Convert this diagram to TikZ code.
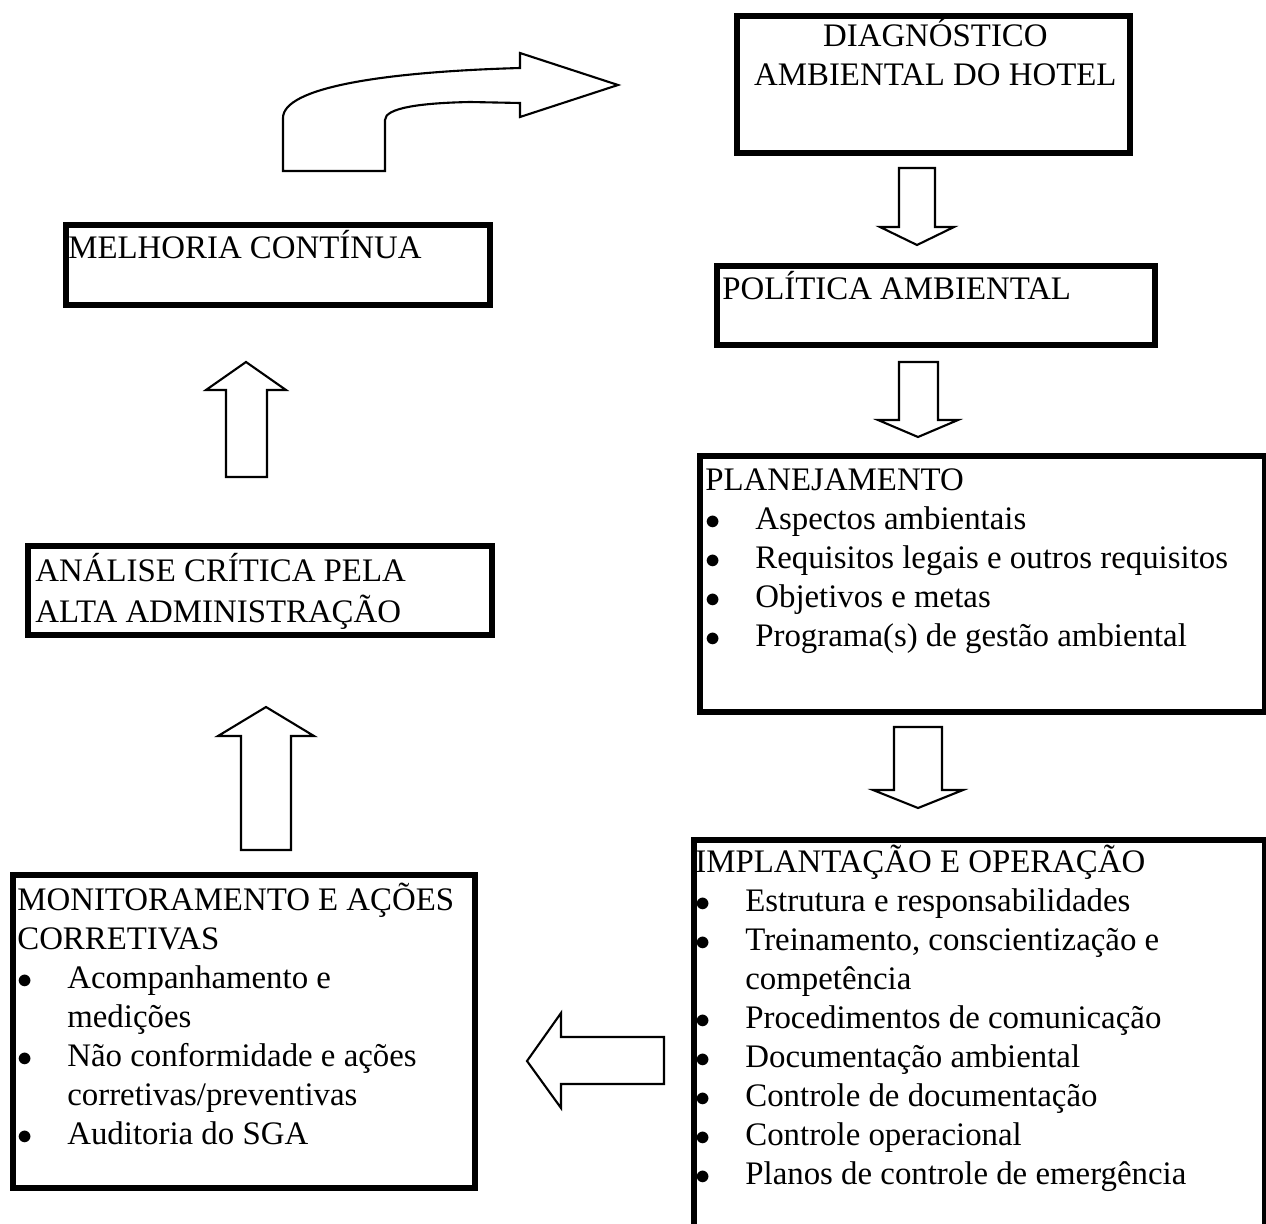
\documentclass[tikz,border=0pt]{standalone}
\usepackage{fontspec}
\setmainfont{Liberation Serif}
\usepackage{tikz}
\newcommand{\blt}{\makebox[1cm][l]{$\bullet$}}
\newcommand{\ind}{\hspace*{1cm}}

\begin{document}
\begin{tikzpicture}[x=0.02cm,y=-0.02cm]
    \tikzstyle{box}=[draw, line width=3.3pt, inner sep=0pt, anchor=north west]
    \tikzstyle{txt}=[inner sep=0pt, anchor=north west, align=left, font=\fontsize{18.7}{22.2}\selectfont]
    \tikzstyle{blk}=[draw, line width=1.2pt, fill=white]
    \useasboundingbox (0,0) rectangle (1266,1223);
    % boxes
    \node[box, minimum width=7.86cm, minimum height=2.74cm] (diag) at (734,13) {};
    \node[box, minimum width=8.76cm, minimum height=1.58cm] (pol) at (714,263) {};
    \node[box, minimum width=11.30cm, minimum height=5.12cm] (plan) at (697,453) {};
    \node[box, minimum width=11.42cm, minimum height=7.86cm] (impl) at (691,837) {};
    \node[box, minimum width=8.48cm, minimum height=1.60cm] (melh) at (63,222) {};
    \node[box, minimum width=9.28cm, minimum height=1.78cm] (anal) at (25,543) {};
    \node[box, minimum width=9.24cm, minimum height=6.26cm] (monit) at (10,872) {};
    % texts
    \node[txt, anchor=north, align=center] (diagtxt) at ([shift={(2,5)}]diag.north)
        {\strut DIAGNÓSTICO\\AMBIENTAL DO HOTEL};
    \node[txt] (poltxt) at ([shift={(8,8)}]pol.north west) {\strut POLÍTICA AMBIENTAL};
    \node[txt] (plantxt) at ([shift={(8,10)}]plan.north west)
        {\strut PLANEJAMENTO\\
         \blt Aspectos ambientais\\
         \blt Requisitos legais e outros requisitos\\
         \blt Objetivos e metas\\
         \blt Programa(s) de gestão ambiental};
    \node[txt] (impltxt) at ([shift={(4,8)}]impl.north west)
        {\strut IMPLANTAÇÃO E OPERAÇÃO\\
         \blt Estrutura e responsabilidades\\
         \blt Treinamento, conscientização e\\
         \ind competência\\
         \blt Procedimentos de comunicação\\
         \blt Documentação ambiental\\
         \blt Controle de documentação\\
         \blt Controle operacional\\
         \blt Planos de controle de emergência};
    \node[txt] (melhtxt) at ([shift={(5,8)}]melh.north west) {\strut MELHORIA CONTÍNUA};
    \node[txt] (analtxt) at ([shift={(10,10)}]anal.north west)
        {\strut ANÁLISE CRÍTICA PELA\\ALTA ADMINISTRAÇÃO};
    \node[txt] (monittxt) at ([shift={(7,11)}]monit.north west)
        {\strut MONITORAMENTO E AÇÕES\\
         CORRETIVAS\\
         \blt Acompanhamento e\\
         \ind medições\\
         \blt Não conformidade e ações\\
         \ind corretivas/preventivas\\
         \blt Auditoria do SGA};
    % block arrows
    \draw[blk] (899,168) -- (935,168) -- (935,227) -- (954,227) -- (917,245) -- (880,227) -- (899,227) -- cycle;
    \draw[blk] (899,362) -- (938,362) -- (938,420) -- (958,420) -- (918,437) -- (878,420) -- (899,420) -- cycle;
    \draw[blk] (894,727) -- (942,727) -- (942,790) -- (963,790) -- (918,808) -- (873,790) -- (894,790) -- cycle;
    \draw[blk] (664,1037) -- (561,1037) -- (561,1013) -- (527,1061) -- (561,1108) -- (561,1084) -- (664,1084) -- cycle;
    \draw[blk] (241,850) -- (241,736) -- (218,736) -- (266,707) -- (314,736) -- (291,736) -- (291,850) -- cycle;
    \draw[blk] (226,477) -- (226,390) -- (206,390) -- (246,362) -- (286,390) -- (267,390) -- (267,477) -- cycle;
    % curved arrow
    \draw[blk] (283,171) -- (283,118) .. controls (283,88) and (380,72) .. (520,68) -- (520,53)
        -- (618,85) -- (520,117) -- (520,103) -- (470,102) .. controls (420,103) and (385,108) .. (385,120)
        -- (385,171) -- cycle;
\end{tikzpicture}
\end{document}
